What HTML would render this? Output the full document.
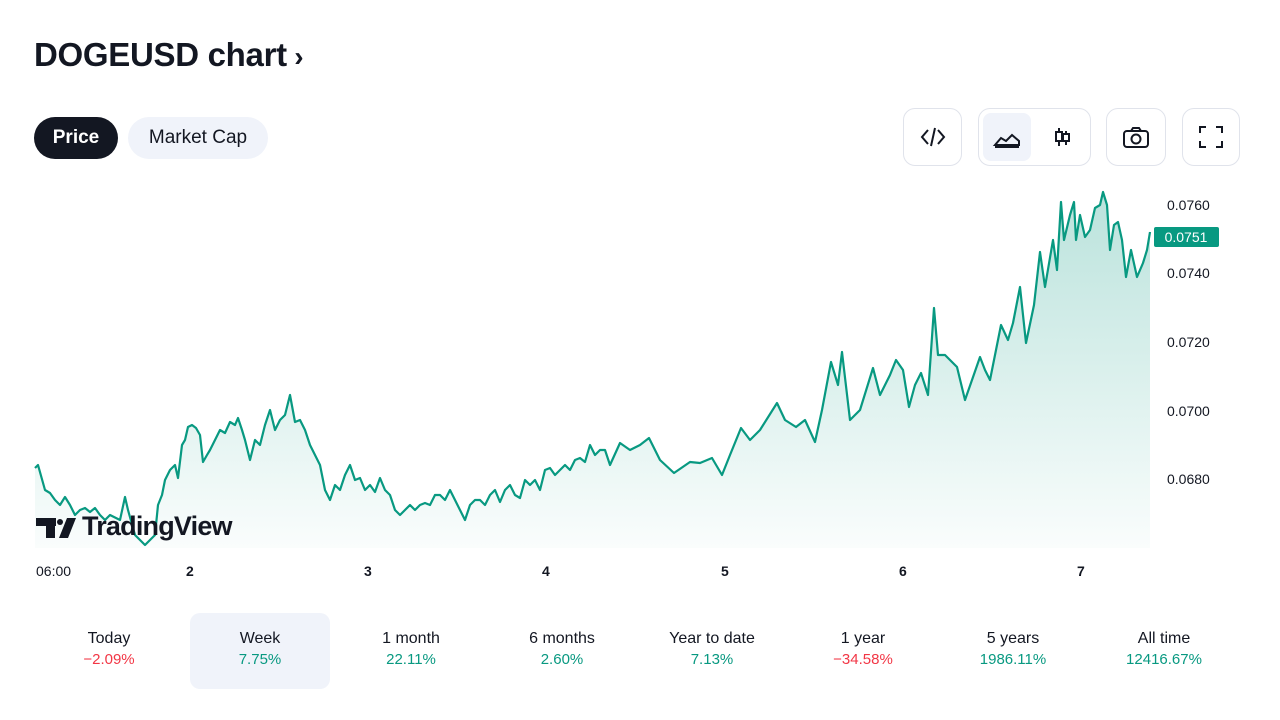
<!DOCTYPE html>
<html><head><meta charset="utf-8"><style>
body{margin:0;width:1280px;height:720px;background:#fff;font-family:"Liberation Sans",sans-serif;color:#131722;position:relative;overflow:hidden}
.a{position:absolute}
.pill{position:absolute;top:117px;height:42px;border-radius:21px;font-size:19px;line-height:42px;text-align:center}
.btn{position:absolute;top:108px;height:58px;border:1px solid #e0e3eb;border-radius:12px;box-sizing:border-box}
.st{position:absolute;top:613px;width:140px;height:76px;text-align:center;font-size:16px;border-radius:10px}
.st b{display:block;font-weight:normal;margin-top:17px}
.st i{font-style:normal;display:block;font-size:15px;margin-top:3px}
.g{color:#089981}.r{color:#f23645}
.ax{position:absolute;left:1167px;font-size:14px}
.xl{position:absolute;top:563px;font-size:14px}
</style></head><body>
<div class="a" style="left:34px;top:36px;font-size:33px;font-weight:bold;letter-spacing:-0.3px">DOGEUSD chart<span style="font-size:28px"> ›</span></div>
<div class="pill" style="left:34px;width:84px;background:#131722;color:#fff;font-weight:bold">Price</div>
<div class="pill" style="left:128px;width:140px;background:#f0f3fa">Market Cap</div>
<div class="btn" style="left:903px;width:59px"><svg width="57" height="56"><path d="M24 21l-6 7 6 7M34 21l6 7-6 7M31 19l-4 18" stroke="#131722" stroke-width="2" fill="none"/></svg></div>
<div class="btn" style="left:978px;width:113px"><div class="a" style="left:4px;top:4px;width:48px;height:48px;background:#f0f3fa;border-radius:8px"></div><svg class="a" width="111" height="56"><path d="M16 38h24M16 36l6-7 5 3 6-6 7 6v4z" stroke="#131722" stroke-width="2" fill="none"/><path d="M80 19v18M87 22v14" stroke="#131722" stroke-width="2"/><rect x="77" y="23" width="6" height="9" fill="#fff" stroke="#131722" stroke-width="2"/><rect x="84" y="25" width="6" height="7" fill="#fff" stroke="#131722" stroke-width="2"/></svg></div>
<div class="btn" style="left:1106px;width:60px"><svg width="58" height="56"><rect x="17" y="22" width="24" height="16" rx="3" fill="none" stroke="#131722" stroke-width="2"/><path d="M24 22l2-3h6l2 3" fill="none" stroke="#131722" stroke-width="2"/><circle cx="29" cy="30" r="4.5" fill="none" stroke="#131722" stroke-width="2"/></svg></div>
<div class="btn" style="left:1182px;width:58px"><svg width="56" height="56"><path d="M17 24v-6h6M33 18h6v6M39 32v6h-6M23 38h-6v-6" fill="none" stroke="#131722" stroke-width="2"/></svg></div>

<svg class="a" style="left:0;top:0" width="1280" height="720">
<defs><linearGradient id="gr" x1="0" y1="190" x2="0" y2="548" gradientUnits="userSpaceOnUse"><stop offset="0" stop-color="#089981" stop-opacity="0.28"/><stop offset="1" stop-color="#089981" stop-opacity="0.02"/></linearGradient></defs>
<polygon fill="url(#gr)" points="35,548 35,468 38,465 45,490 50,493 55,500 60,505 65,497 70,505 75,515 80,510 85,508 90,512 95,508 100,515 105,520 110,515 120,520 125,497 128,510 135,535 140,540 145,545 150,540 155,535 158,505 162,495 165,480 170,470 175,465 178,478 182,445 185,440 188,427 192,425 196,428 200,435 203,462 207,455 210,450 215,440 220,430 225,433 230,422 235,425 238,418 242,430 245,440 250,460 255,440 260,445 265,425 270,410 275,430 280,420 285,415 290,395 295,422 300,420 305,430 310,445 315,455 320,465 325,490 330,500 335,485 340,490 345,475 350,465 355,480 360,478 365,490 370,485 375,492 380,478 385,490 390,495 395,510 400,515 405,510 410,505 415,510 420,505 425,503 430,505 435,495 440,495 445,500 450,490 455,500 460,510 465,520 470,505 475,500 480,500 485,505 490,495 495,490 500,502 505,490 510,485 515,495 520,498 525,480 530,485 535,480 540,490 545,470 550,468 555,475 560,470 565,465 570,470 575,460 580,458 585,462 590,445 595,455 600,450 605,450 610,465 620,443 630,450 640,445 649,438 660,460 674,473 690,462 700,463 712,458 722,475 730,455 741,428 750,440 760,430 777,403 785,420 796,427 805,420 815,442 822,410 831,362 838,385 842,352 850,420 860,410 873,368 880,395 890,375 896,360 903,370 909,407 915,385 921,373 928,395 934,308 938,355 945,355 957,367 965,400 972,380 980,357 985,370 990,380 1001,325 1008,340 1013,323 1020,287 1026,343 1034,305 1040,252 1045,287 1053,240 1057,270 1061,202 1064,240 1070,215 1074,202 1076,240 1080,215 1085,237 1090,230 1095,208 1100,205 1103,192 1107,205 1110,250 1114,225 1118,222 1122,240 1126,277 1131,250 1137,277 1143,263 1147,250 1150,232 1150,548"/>
<polyline fill="none" stroke="#089981" stroke-width="2.2" stroke-linejoin="round" points="35,468 38,465 45,490 50,493 55,500 60,505 65,497 70,505 75,515 80,510 85,508 90,512 95,508 100,515 105,520 110,515 120,520 125,497 128,510 135,535 140,540 145,545 150,540 155,535 158,505 162,495 165,480 170,470 175,465 178,478 182,445 185,440 188,427 192,425 196,428 200,435 203,462 207,455 210,450 215,440 220,430 225,433 230,422 235,425 238,418 242,430 245,440 250,460 255,440 260,445 265,425 270,410 275,430 280,420 285,415 290,395 295,422 300,420 305,430 310,445 315,455 320,465 325,490 330,500 335,485 340,490 345,475 350,465 355,480 360,478 365,490 370,485 375,492 380,478 385,490 390,495 395,510 400,515 405,510 410,505 415,510 420,505 425,503 430,505 435,495 440,495 445,500 450,490 455,500 460,510 465,520 470,505 475,500 480,500 485,505 490,495 495,490 500,502 505,490 510,485 515,495 520,498 525,480 530,485 535,480 540,490 545,470 550,468 555,475 560,470 565,465 570,470 575,460 580,458 585,462 590,445 595,455 600,450 605,450 610,465 620,443 630,450 640,445 649,438 660,460 674,473 690,462 700,463 712,458 722,475 730,455 741,428 750,440 760,430 777,403 785,420 796,427 805,420 815,442 822,410 831,362 838,385 842,352 850,420 860,410 873,368 880,395 890,375 896,360 903,370 909,407 915,385 921,373 928,395 934,308 938,355 945,355 957,367 965,400 972,380 980,357 985,370 990,380 1001,325 1008,340 1013,323 1020,287 1026,343 1034,305 1040,252 1045,287 1053,240 1057,270 1061,202 1064,240 1070,215 1074,202 1076,240 1080,215 1085,237 1090,230 1095,208 1100,205 1103,192 1107,205 1110,250 1114,225 1118,222 1122,240 1126,277 1131,250 1137,277 1143,263 1147,250 1150,232"/>
<rect x="1154" y="227" width="65" height="20" rx="2" fill="#089981"/>
<text x="1186" y="242" font-size="14" fill="#fff" text-anchor="middle" font-family="Liberation Sans">0.0751</text>
<g fill="#131722"><rect x="36" y="518" width="20" height="8"/><rect x="46" y="518" width="9" height="20"/><circle cx="60" cy="522" r="3"/><polygon points="67,518 76,518 68,538 59,538"/></g>
</svg>
<div class="a" style="left:82px;top:511px;font-size:27px;font-weight:bold;letter-spacing:-0.8px">TradingView</div>
<div class="ax" style="top:197px">0.0760</div>
<div class="ax" style="top:265px">0.0740</div>
<div class="ax" style="top:334px">0.0720</div>
<div class="ax" style="top:403px">0.0700</div>
<div class="ax" style="top:471px">0.0680</div>
<div class="xl" style="left:36px">06:00</div>
<div class="xl" style="left:186px;font-weight:bold">2</div>
<div class="xl" style="left:364px;font-weight:bold">3</div>
<div class="xl" style="left:542px;font-weight:bold">4</div>
<div class="xl" style="left:721px;font-weight:bold">5</div>
<div class="xl" style="left:899px;font-weight:bold">6</div>
<div class="xl" style="left:1077px;font-weight:bold">7</div>
<div class="st" style="left:39px"><b>Today</b><i class="r">−2.09%</i></div>
<div class="st" style="left:190px;background:#f0f3fa"><b>Week</b><i class="g">7.75%</i></div>
<div class="st" style="left:341px"><b>1 month</b><i class="g">22.11%</i></div>
<div class="st" style="left:492px"><b>6 months</b><i class="g">2.60%</i></div>
<div class="st" style="left:642px"><b>Year to date</b><i class="g">7.13%</i></div>
<div class="st" style="left:793px"><b>1 year</b><i class="r">−34.58%</i></div>
<div class="st" style="left:943px"><b>5 years</b><i class="g">1986.11%</i></div>
<div class="st" style="left:1094px"><b>All time</b><i class="g">12416.67%</i></div>
</body></html>
